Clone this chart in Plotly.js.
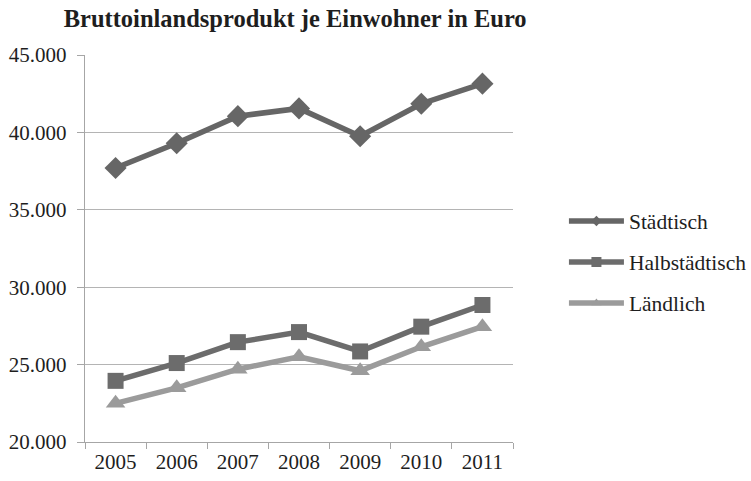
<!DOCTYPE html>
<html><head><meta charset="utf-8">
<script src="https://cdn.plot.ly/plotly-3.0.1.min.js"></script>
<style>html,body{margin:0;padding:0;background:#fff}#c{width:751px;height:481px}</style>
</head><body><div id="c"></div>
<script>
var years = ['2005','2006','2007','2008','2009','2010','2011'];
var staedtisch = [37700, 39300, 41050, 41550, 39750, 41850, 43150];
var halbstaedtisch = [23950, 25100, 26450, 27100, 25850, 27450, 28850];
var laendlich = [22500, 23500, 24700, 25500, 24600, 26150, 27450];
var seriesNames = ['Städtisch', 'Halbstädtisch', 'Ländlich'];
var yTicks = [20000, 25000, 30000, 35000, 40000, 45000];
var yTickText = ['20.000','25.000','30.000','35.000','40.000','45.000'];

var FAM = 'Liberation Serif';
var colors = ['#666666', '#6c6c6c', '#9b9b9b'];
var symbols = ['diamond', 'square', 'triangle-up'];
var sizes = [17, 16, 17];
var legSizes = [8, 10, 9];
var series = [staedtisch, halbstaedtisch, laendlich];

var data = [];
series.forEach(function(y, i){
  data.push({x: years, y: y, name: seriesNames[i], type: 'scatter', mode: 'lines+markers',
    showlegend: false,
    line: {color: colors[i], width: 5.5},
    marker: {color: colors[i], symbol: symbols[i], size: sizes[i]}});
});
series.forEach(function(y, i){
  data.push({x: [null], y: [null], name: seriesNames[i], type: 'scatter', mode: 'lines+markers',
    legendgroup: 'g' + i, showlegend: true,
    line: {color: colors[i], width: 5.5},
    marker: {color: colors[i], symbol: symbols[i], size: legSizes[i]}});
});
var layout = {
  width: 751, height: 481,
  margin: {l: 85, r: 238, t: 55, b: 39, autoexpand: false},
  paper_bgcolor: '#fff', plot_bgcolor: '#fff',
  font: {family: FAM, color: '#000', size: 21},
  title: {text: '<b>Bruttoinlandsprodukt je Einwohner in Euro</b>', x: 0.393, xanchor: 'center', y: 0.962, yanchor: 'middle', font: {family: FAM, size: 24.5, color: '#1e1e1e'}},
  showlegend: true,
  legend: {x: 1.119, xanchor: 'left', y: 0.465, yanchor: 'middle', tracegroupgap: 10, font: {family: FAM, size: 21.5, color: '#1e1e1e'}, itemwidth: 55},
  xaxis: {type: 'category', range: [-0.5, 6.5], showgrid: false, showline: true, linecolor: '#a6a6a6', linewidth: 1.3,
    ticks: 'outside', ticklen: 6, tickcolor: '#a6a6a6', tickson: 'boundaries', tickfont: {family: FAM, size: 21, color: '#1e1e1e'}, fixedrange: true},
  yaxis: {range: [20000, 45000], tickvals: yTicks, ticktext: yTickText, showgrid: true, gridcolor: '#b4b4b4', gridwidth: 1.3,
    showline: true, linecolor: '#a6a6a6', linewidth: 1.3, ticks: 'outside', ticklen: 7, tickcolor: '#a6a6a6', ticklabelstandoff: 6,
    tickfont: {family: FAM, size: 21, color: '#1e1e1e'}, zeroline: false}
};
Plotly.newPlot('c', data, layout, {displayModeBar: false, staticPlot: true});
</script></body></html>
